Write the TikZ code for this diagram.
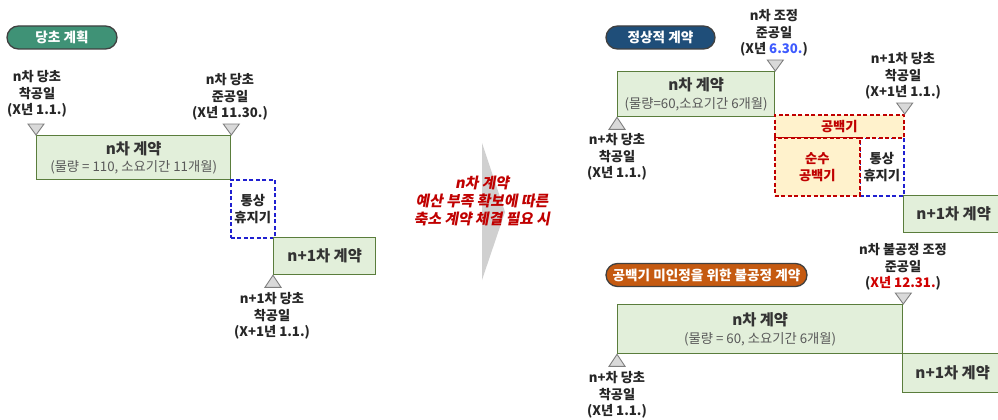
\documentclass[tikz,border=0pt]{standalone}
\usepackage{fontspec}
\setmainfont{Noto Sans CJK KR}
\newfontfamily\slantfont[FakeSlant=0.18]{Noto Sans CJK KR}
\definecolor{boxfill}{HTML}{E2EFDA}
\definecolor{boxline}{HTML}{5A7D3C}
\definecolor{subgray}{HTML}{595959}
\definecolor{trifill}{HTML}{D9D9D9}
\definecolor{triline}{HTML}{7F7F7F}
\definecolor{pillteal}{HTML}{3F9276}
\definecolor{pillblue}{HTML}{1F4E79}
\definecolor{pillorange}{HTML}{C55A11}
\definecolor{pillborder}{HTML}{404040}
\definecolor{dashblue}{HTML}{2020D0}
\definecolor{dashred}{HTML}{C00000}
\definecolor{gapfill}{HTML}{FFF2CC}
\definecolor{datablue}{HTML}{3D5AFE}
\definecolor{datared}{HTML}{D00000}
\definecolor{midred}{HTML}{C00000}
\definecolor{arrowgray}{HTML}{D0D0D0}
\newcommand{\titlefont}{\fontsize{15.3}{17.5}\selectfont\bfseries\color{black!80}}
\newcommand{\subfont}{\fontsize{13.3}{17.5}\selectfont\color{subgray}}
\begin{document}
\begin{tikzpicture}[x=1pt,y=-1pt,
  box/.style={draw=boxline, fill=boxfill, line width=1.3pt, inner sep=0pt, align=center, anchor=north west, font=\fontsize{13.3}{17.5}\selectfont},
  onebox/.style={box, font=\titlefont},
  dashbox/.style={line width=1.7pt, dash pattern=on 4pt off 2.5pt, inner sep=0pt, align=center, anchor=north west, font=\fontsize{13.3}{17}\selectfont\bfseries},
  bluebox/.style={dashbox, draw=dashblue, fill=white, text=black!85},
  redbox/.style={dashbox, draw=dashred, fill=gapfill, text=dashred},
  lbl/.style={align=center, inner sep=0pt, font=\fontsize{13.2}{16.5}\selectfont\bfseries, text=black!85},
  pill/.style={draw=pillborder, line width=1.3pt, rounded corners=11.5pt, text=white, inner sep=0pt, minimum height=23, font=\fontsize{13.6}{15}\selectfont\bfseries},
  tri/.style={draw=triline, fill=trifill, line width=0.9pt}
]
\useasboundingbox (0,0) rectangle (998,420);
\clip (0,0) rectangle (998,420);

% ---------- left: original plan ----------
\node[pill, fill=pillteal, minimum width=110] (p1) at (62,37.5) {당초 계획};

\node[box, minimum width=194, minimum height=44] (n1) at (36,135)
  {{\titlefont n차 계약}\\{\subfont (물량 = 110, 소요기간 11개월)}};
\node[bluebox, minimum width=44, minimum height=58] (h1) at (230,179) {통상\\휴지기};
\node[onebox, minimum width=102, minimum height=37] (n2) at (273,237) {n+1차 계약};

\draw[tri] (n1.north west) -- ++(-8,-11) -- ++(16,0) -- cycle;
\draw[tri] (n1.north east) -- ++(-8,-11) -- ++(16,0) -- cycle;
\draw[tri] (n2.south west) -- ++(-8,12) -- ++(16,0) -- cycle;

\node[lbl] (l1) at (37,94) {n차 당초\\착공일\\(X년 1.1.)};
\node[lbl] (l2) at (230,97) {n차 당초\\준공일\\(X년 11.30.)};
\node[lbl] (l3) at (272,316) {n+1차 당초\\착공일\\(X+1년 1.1.)};

% ---------- middle arrow ----------
\fill[arrowgray] (482,143) -- (505,212) -- (482,280) -- cycle;
\node[align=center, inner sep=0pt, text=midred, font=\fontsize{14.8}{18}\selectfont\slantfont\bfseries] (mid) at (482,201)
  {n차 계약\\예산 부족 확보에 따른\\축소 계약 체결 필요 시};

% ---------- right top: normal contract ----------
\node[pill, fill=pillblue, minimum width=109] (p2) at (660.5,37.5) {정상적 계약};

\node[box, minimum width=157, minimum height=45] (r1) at (617,71)
  {{\titlefont n차 계약}\\{\subfont (물량=60,소요기간 6개월)}};
\node[bluebox, minimum width=44, minimum height=58] (h2) at (859,137) {통상\\휴지기};
\node[redbox, minimum width=129, minimum height=23] (gap) at (774,114) {공백기};
\node[redbox, minimum width=85, minimum height=58] (pure) at (774,137) {순수\\공백기};
\node[onebox, minimum width=100, minimum height=37] (r2) at (903,195) {n+1차 계약};

\draw[tri] (r1.north east) -- ++(-8,-11) -- ++(16,0) -- cycle;
\draw[tri] (r1.south west) -- ++(-8,12) -- ++(16,0) -- cycle;
\draw[tri] (gap.north east) -- ++(-8,-11) -- ++(16,0) -- cycle;

\node[lbl] (l4) at (774,33) {n차 조정\\준공일\\(X년 \textcolor{datablue}{6.30.})};
\node[lbl] (l5) at (617,157) {n+차 당초\\착공일\\(X년 1.1.)};
\node[lbl] (l6) at (903,76) {n+1차 당초\\착공일\\(X+1년 1.1.)};

% ---------- right bottom: unfair contract ----------
\node[pill, fill=pillorange, minimum width=201] (p3) at (706.5,275) {공백기 미인정을 위한 불공정 계약};

\node[box, minimum width=285, minimum height=49] (b1) at (617,304)
  {{\titlefont n차 계약}\\{\subfont (물량 = 60, 소요기간 6개월)}};
\node[onebox, minimum width=100, minimum height=39] (b2) at (902,353) {n+1차 계약};

\draw[tri] (b1.north east) -- ++(-8,-11) -- ++(16,0) -- cycle;
\draw[tri] (b1.south west) -- ++(-8,12) -- ++(16,0) -- cycle;

\node[lbl] (l7) at (903,267) {n차 불공정 조정\\준공일\\(\textcolor{datared}{X년 12.31.})};
\node[lbl] (l8) at (617,395) {n+차 당초\\착공일\\(X년 1.1.)};
\end{tikzpicture}
\end{document}
